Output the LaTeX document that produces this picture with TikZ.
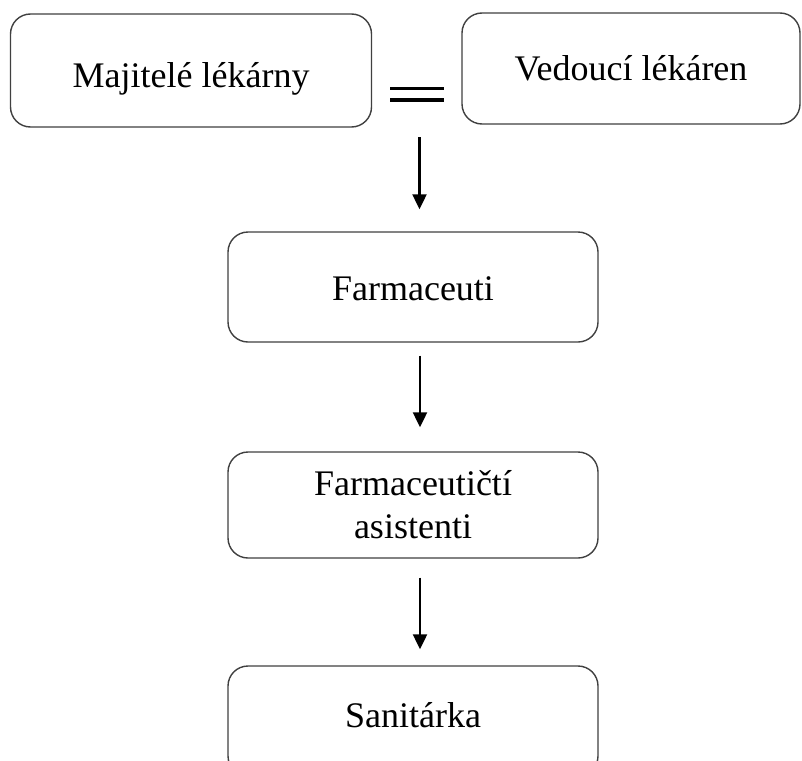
\documentclass[tikz,border=0pt]{standalone}
\usepackage{fontspec}
\setmainfont{Liberation Serif}
\usetikzlibrary{arrows.meta}

\begin{document}
\begin{tikzpicture}[x=1pt,y=-1pt,
  box/.style={draw=black!75, line width=1.4pt, rounded corners=20pt,
    fill=white, inner sep=0pt, align=center,
    font=\fontsize{36}{43}\selectfont},
  arr/.style={draw=black, line width=2.2pt,
    -{Triangle[length=15pt,width=14pt]}},
  eqline/.style={draw=black, line width=3.4pt}]

  % page frame
  \useasboundingbox (0,0) rectangle (802,760);
  \clip (0,0) rectangle (802,760);

  % top row
  \node[box, minimum width=361pt, minimum height=113pt,
        text height=33pt, text depth=0pt] (owners) at (191,70.5)
        {Majitelé lékárny};
  \node[box, minimum width=338pt, minimum height=111pt,
        text height=23pt, text depth=0pt] (heads) at (631,68.5)
        {Vedoucí lékáren};

  % hierarchy column
  \node[box, minimum width=370pt, minimum height=110pt,
        text height=26pt, text depth=0pt] (pharm) at (413,287)
        {Farmaceuti};
  \node[box, minimum width=370pt, minimum height=106pt] (assist) at (413,505)
        {Farmaceutičtí\\asistenti};
  \node[box, minimum width=370pt, minimum height=110pt,
        text height=12pt, text depth=0pt] (orderly) at (413,721)
        {Sanitárka};

  % equality between the two top boxes
  \coordinate (eqA) at (390,88.5);
  \coordinate (eqB) at (444,88.5);
  \coordinate (eqC) at (390,100);
  \coordinate (eqD) at (444,100);
  \draw[eqline] (eqA) -- (eqB);
  \draw[eqline] (eqC) -- (eqD);

  % arrows down the hierarchy
  \coordinate (topstart) at (419.5,137);
  \draw[arr] (topstart) -- ([xshift=6.5pt,yshift=22pt]pharm.north);
  \draw[arr] ([xshift=7pt,yshift=-13pt]pharm.south) -- ([xshift=7pt,yshift=24pt]assist.north);
  \draw[arr] ([xshift=7pt,yshift=-19pt]assist.south) -- ([xshift=7pt,yshift=16pt]orderly.north);
\end{tikzpicture}
\end{document}
